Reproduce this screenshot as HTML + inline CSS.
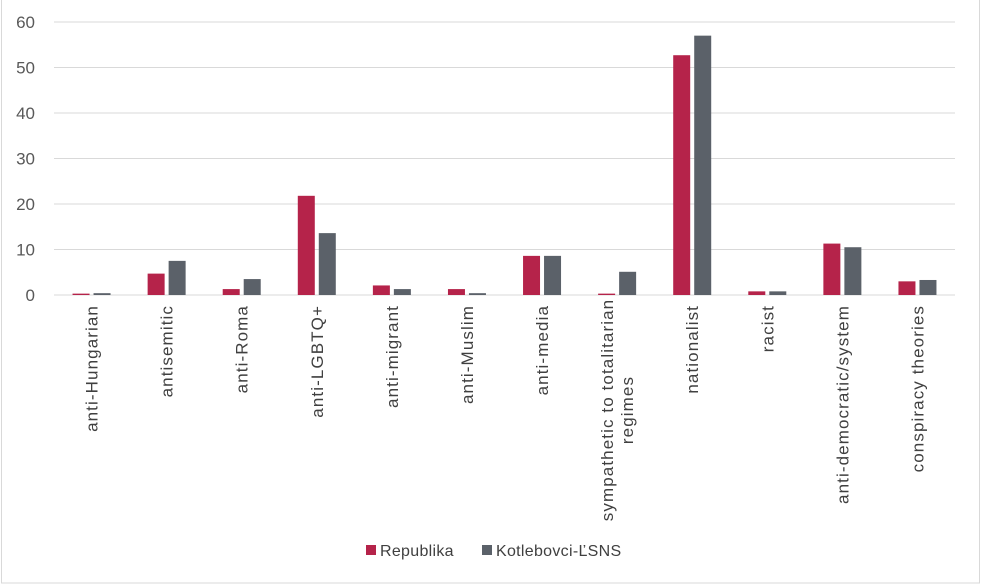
<!DOCTYPE html>
<html><head><meta charset="utf-8"><style>
body{margin:0;background:#fff;}
svg{display:block;font-family:"Liberation Sans",sans-serif;}
</style></head><body>
<svg id="chart" width="982" height="586">
<rect x="1.5" y="-2" width="978" height="585" fill="#fff" stroke="#d9d9d9"/>
<g id="grid"></g><g id="bars"></g><g id="xlabels"></g>
<g font-size="16" fill="#404040">
<rect x="366" y="545" width="10" height="10" fill="#b5234a"/>
<text x="380" y="556" letter-spacing="0.3">Republika</text>
<rect x="482" y="545" width="10" height="10" fill="#5b6169"/>
<text x="496" y="556" letter-spacing="0.3">Kotlebovci-ĽSNS</text>
</g>
</svg>
<script>
const categories=["anti-Hungarian","antisemitic","anti-Roma","anti-LGBTQ+","anti-migrant","anti-Muslim","anti-media","sympathetic to totalitarian|regimes","nationalist","racist","anti-democratic/system","conspiracy theories"];
const republika=[0.3,4.7,1.3,21.8,2.1,1.3,8.6,0.3,52.7,0.8,11.3,3.0];
const kotlebovci=[0.4,7.5,3.5,13.6,1.3,0.4,8.6,5.1,57.0,0.8,10.5,3.3];
const yTicks=[0,10,20,30,40,50,60];
const NS="http://www.w3.org/2000/svg";
const x0=54,x1=955,y0=295,yTop=22,yMax=60;
const band=(x1-x0)/categories.length;
const y=v=>y0-(v/yMax)*(y0-yTop);
const cx=i=>x0+band*(i+0.5);
function mk(t,a,p){const e=document.createElementNS(NS,t);for(const k in a)e.setAttribute(k,a[k]);p.appendChild(e);return e;}
const g=document.getElementById('grid');
yTicks.forEach(t=>{
 const l=mk('line',{x1:x0,x2:x1,y1:y(t),y2:y(t),stroke:'#d9d9d9','stroke-width':1},g);
 
 
 const tx=mk('text',{x:35,y:y(t)+6,'text-anchor':'end','font-size':17,fill:'#595959'},g);
 tx.textContent=t;
 
 
});
const b=document.getElementById('bars');
const bw=17;
const xl=document.getElementById('xlabels');
categories.forEach((c,i)=>{
 const r1=mk('rect',{x:cx(i)-bw-2,y:y(republika[i]),width:bw,height:y0-y(republika[i]),fill:'#b5234a'},b);
 
 
 const r2=mk('rect',{x:cx(i)+2,y:y(kotlebovci[i]),width:bw,height:y0-y(kotlebovci[i]),fill:'#5b6169'},b);
 
 
 const lines=c.split('|');
 const multi=lines.length>1;
 const t=mk('text',{transform:multi?`translate(${cx(i)},410) rotate(-90)`:`translate(${cx(i)},305) rotate(-90)`,'text-anchor':multi?'middle':'end','font-size':17,'letter-spacing':1.1,fill:'#404040'},xl);
 
 
 lines.forEach((ln,k)=>{
  const off=multi?(k===0?-4:16):6;
  const s=mk('tspan',{x:0,y:off},t);
  s.textContent=ln;
 });
});
</script>
</body></html>
